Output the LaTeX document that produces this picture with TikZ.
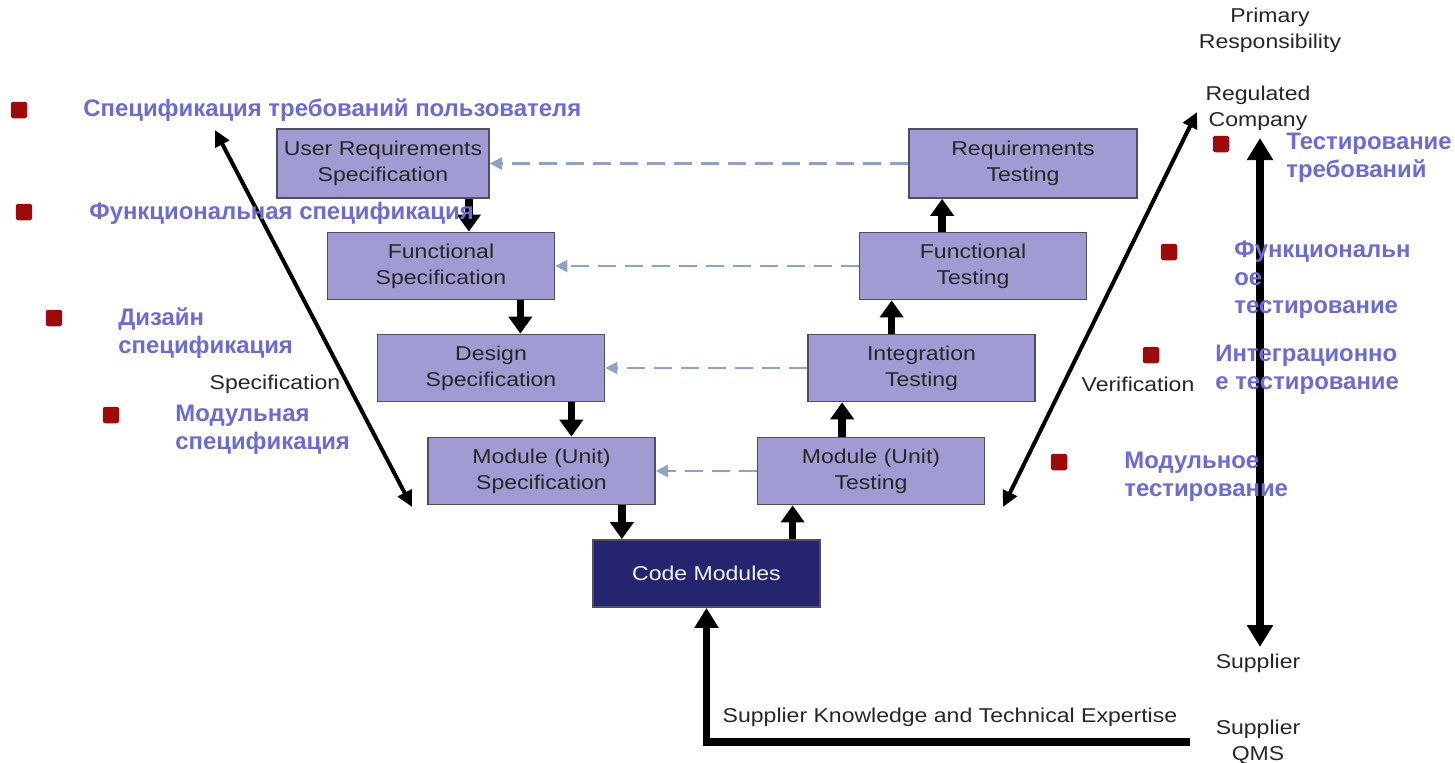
\documentclass[tikz,border=0pt]{standalone}
\usepackage{fontspec}
\setmainfont{Liberation Sans}
\newfontfamily\widefont{Liberation Sans}[FakeStretch=1.15]
\usetikzlibrary{arrows.meta,positioning}
\definecolor{boxfill}{HTML}{A09BD2}
\definecolor{boxline}{HTML}{4E4E60}
\definecolor{codefill}{HTML}{25256F}
\definecolor{ruslabel}{HTML}{6B6BD3}
\definecolor{bulletred}{HTML}{9C0A0A}
\definecolor{dashline}{HTML}{8EA2C8}

\begin{document}
\begin{tikzpicture}[x=0.02cm, y=-0.02cm, font=\widefont\fontsize{11.4}{14.6}\selectfont,
    box/.style={draw=boxline, fill=boxfill, line width=1pt, align=center, minimum width=4.54cm, minimum height=1.34cm, inner sep=0pt, text=black!85},
    code/.style={box, fill=codefill, text=white!88!boxfill},
    flow/.style={draw, -{Triangle[width=0.46cm, length=0.34cm]}, line width=0.15cm},
    back/.style={draw=dashline, -{Triangle[width=0.24cm, length=0.24cm]}, line width=1.2pt, dash pattern=on 0.36cm off 0.18cm},
    span/.style={draw, {Triangle[width=0.3cm, length=0.32cm]}-{Triangle[width=0.3cm, length=0.32cm]}, line width=0.08cm},
    sq/.style={fill=bulletred, rounded corners=1.5pt, minimum size=0.33cm, inner sep=0pt},
    rus/.style={text=ruslabel, font=\normalfont\bfseries\fontsize{13.6}{16}\selectfont, align=left, anchor=west, inner sep=0pt},
    lab/.style={align=center, inner sep=0pt, text=black!85}]
    \useasboundingbox (0,0) rectangle (1455,762);

    % nodes
    \node[box, minimum width=4.24cm, minimum height=1.38cm] (urs) at (383,163.5) {User Requirements\\Specification};
    \node[box] (fs) at (441,266) {Functional\\Specification};
    \node[box] (ds) at (491,368) {Design\\Specification};
    \node[box] (ms) at (541.5,471) {Module (Unit)\\Specification};
    \node[code] (cm) at (706.5,573.5) {Code Modules};
    \node[box] (mt) at (871,471) {Module (Unit)\\Testing};
    \node[box] (it) at (921.5,368) {Integration\\Testing};
    \node[box] (ft) at (973,266) {Functional\\Testing};
    \node[box, minimum width=4.56cm, minimum height=1.38cm] (rt) at (1023,163.5) {Requirements\\Testing};

    % labels
    \node[lab] (spec) at (275,384) {Specification};
    \node[lab] (verif) at (1138,384) {Verification};
    \node[lab] (prim) at (1270,30.5) {Primary\\Responsibility};
    \node[lab] (reg) at (1258,108) {Regulated\\Company};
    \node[lab] (sup) at (1258,663) {Supplier};
    \node[lab] (qms) at (1258,742) {Supplier\\QMS};
    \node[lab] (know) at (950,717) {Supplier Knowledge and Technical Expertise};

    % free ends
    \coordinate (sl1) at (215,130);
    \coordinate (sl2) at (412,507);
    \coordinate (vr1) at (1003,507);
    \coordinate (vr2) at (1197,112);
    \coordinate (rc) at (1260,138);
    \coordinate (sc) at (1260,647);
    \coordinate (qe) at (1190,742);

    % arrows
    \foreach \a/\b/\s in {urs/fs/0.42, fs/ds/0.7, ds/ms/0.68, ms/cm/0.68}
        \draw[flow] ([xshift=-\s cm]\a.south east) -- ([xshift=-\s cm]\a.south east |- \b.north);
    \foreach \a/\b/\s in {cm/mt/0.72, mt/it/0.7, it/ft/0.66, ft/rt/0.68}
        \draw[flow] ([xshift=\s cm]\b.south west |- \a.north) -- ([xshift=\s cm]\b.south west);
    \foreach \a/\b in {rt/urs, ft/fs, it/ds, mt/ms}
        \draw[back] (\a) -- (\b);
    \draw[span] (sl1) -- (sl2);
    \draw[span] (vr1) -- (vr2);
    \draw[draw, {Triangle[width=0.5cm, length=0.44cm]}-{Triangle[width=0.5cm, length=0.44cm]}, line width=0.15cm] (rc) -- (sc);
    \draw[flow, -{Triangle[width=0.46cm, length=0.4cm]}] (qe) -| (cm.south);

    % russian notes
    \node[sq] (b1) at (19,110) {};
    \node[rus] (r1) at (83,110) {Спецификация требований пользователя};
    \node[sq] (b2) at (24,212) {};
    \node[rus] (r2) at (89,213) {Функциональная спецификация};
    \node[sq] (b3) at (54,318) {};
    \node[rus] (r3) at (118,333) {Дизайн\\спецификация};
    \node[sq] (b4) at (111,415) {};
    \node[rus] (r4) at (175,430) {Модульная\\спецификация};
    \node[sq] (b5) at (1221,144) {};
    \node[rus] (r5) at (1286,157.5) {Тестирование\\требований};
    \node[sq] (b6) at (1169,252) {};
    \node[rus] (r6) at (1234,280) {Функциональн\\ое\\тестирование};
    \node[sq] (b7) at (1151,355) {};
    \node[rus] (r7) at (1215,369.5) {Интеграционно\\е тестирование};
    \node[sq] (b8) at (1059,462) {};
    \node[rus] (r8) at (1124,477) {Модульное\\тестирование};
\end{tikzpicture}
\end{document}
